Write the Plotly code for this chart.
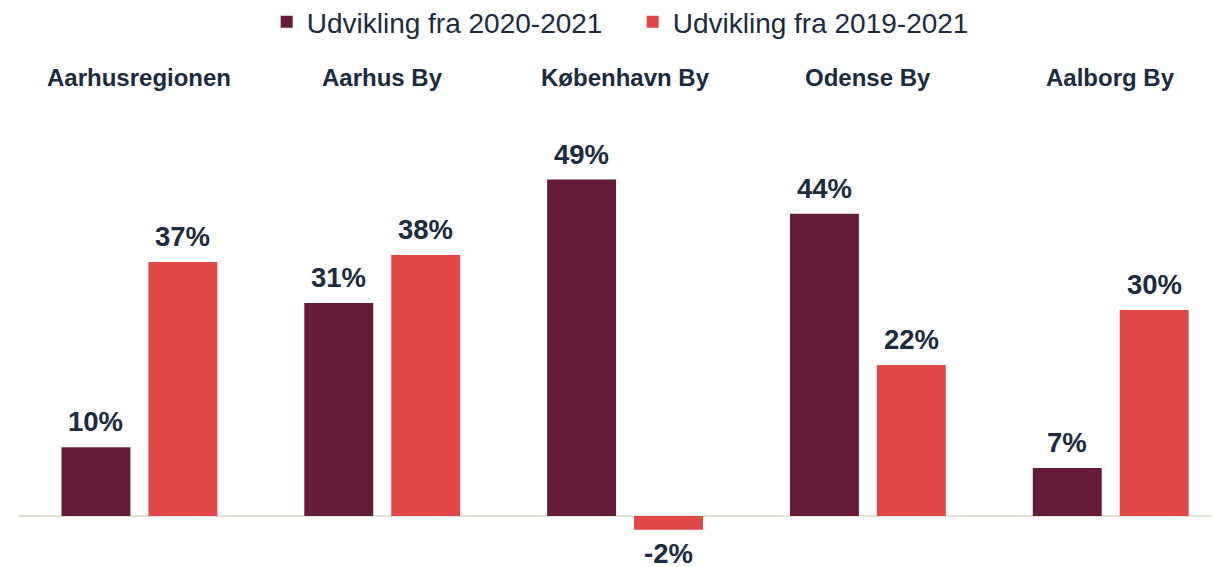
import plotly.graph_objects as go

# Data
regions = ['Aarhusregionen', 'Aarhus By', 'København By', 'Odense By', 'Aalborg By']
dev_2020_2021 = [10, 31, 49, 44, 7]
dev_2019_2021 = [37, 38, -2, 22, 30]

dark = '#641C3A'
red = '#E04848'
txt = '#1B2B40'
font_family = 'Liberation Sans, Arial, sans-serif'

fig = go.Figure()

fig.add_trace(go.Bar(
    x=regions, y=dev_2020_2021,
    name='Udvikling fra 2020-2021',
    marker=dict(color=dark, line=dict(width=0)),
))
fig.add_trace(go.Bar(
    x=regions, y=dev_2019_2021,
    name='Udvikling fra 2019-2021',
    marker=dict(color=red, line=dict(width=0)),
))

# value labels above / below the bars
for vals, shift in [(dev_2020_2021, -43.5), (dev_2019_2021, 43.5)]:
    for r, v in zip(regions, vals):
        fig.add_annotation(
            x=r, y=v, xref='x', yref='y',
            text=f'{v}%', showarrow=False,
            xshift=shift, yshift=8 if v >= 0 else -6,
            yanchor='bottom' if v >= 0 else 'top',
            font=dict(family=font_family, size=27.5, color=txt, weight='bold'),
        )

# category titles on top
for r in regions:
    fig.add_annotation(
        x=r, y=1.057, xref='x', yref='paper',
        text=f'<b>{r}</b>', showarrow=False, yanchor='middle',
        font=dict(family=font_family, size=24, color=txt),
    )

# page body has an 8px margin, so the plot is laid out 8px up/left
fig.update_layout(
    width=1220, height=567,
    margin=dict(l=10, r=0, t=96, b=11, autoexpand=False),
    barmode='group',
    bargap=0.284,
    bargroupgap=0.207,
    plot_bgcolor='white',
    paper_bgcolor='white',
    showlegend=True,
    legend=dict(
        orientation='h', x=0.508, xanchor='center', y=1.178, yanchor='middle',
        font=dict(family=font_family, size=28, color=txt),
        itemwidth=30, traceorder='normal',
        entrywidthmode='pixels', entrywidth=321,
    ),
    xaxis=dict(
        range=[-0.5, 4.483], showticklabels=False, showgrid=False,
        showline=False, ticks='',
    ),
    yaxis=dict(
        range=[-7, 60], showticklabels=False, showgrid=False,
        zeroline=True, zerolinecolor='#E6E0D4', zerolinewidth=2,
        showline=False,
    ),
)

fig.write_html('out.html')
